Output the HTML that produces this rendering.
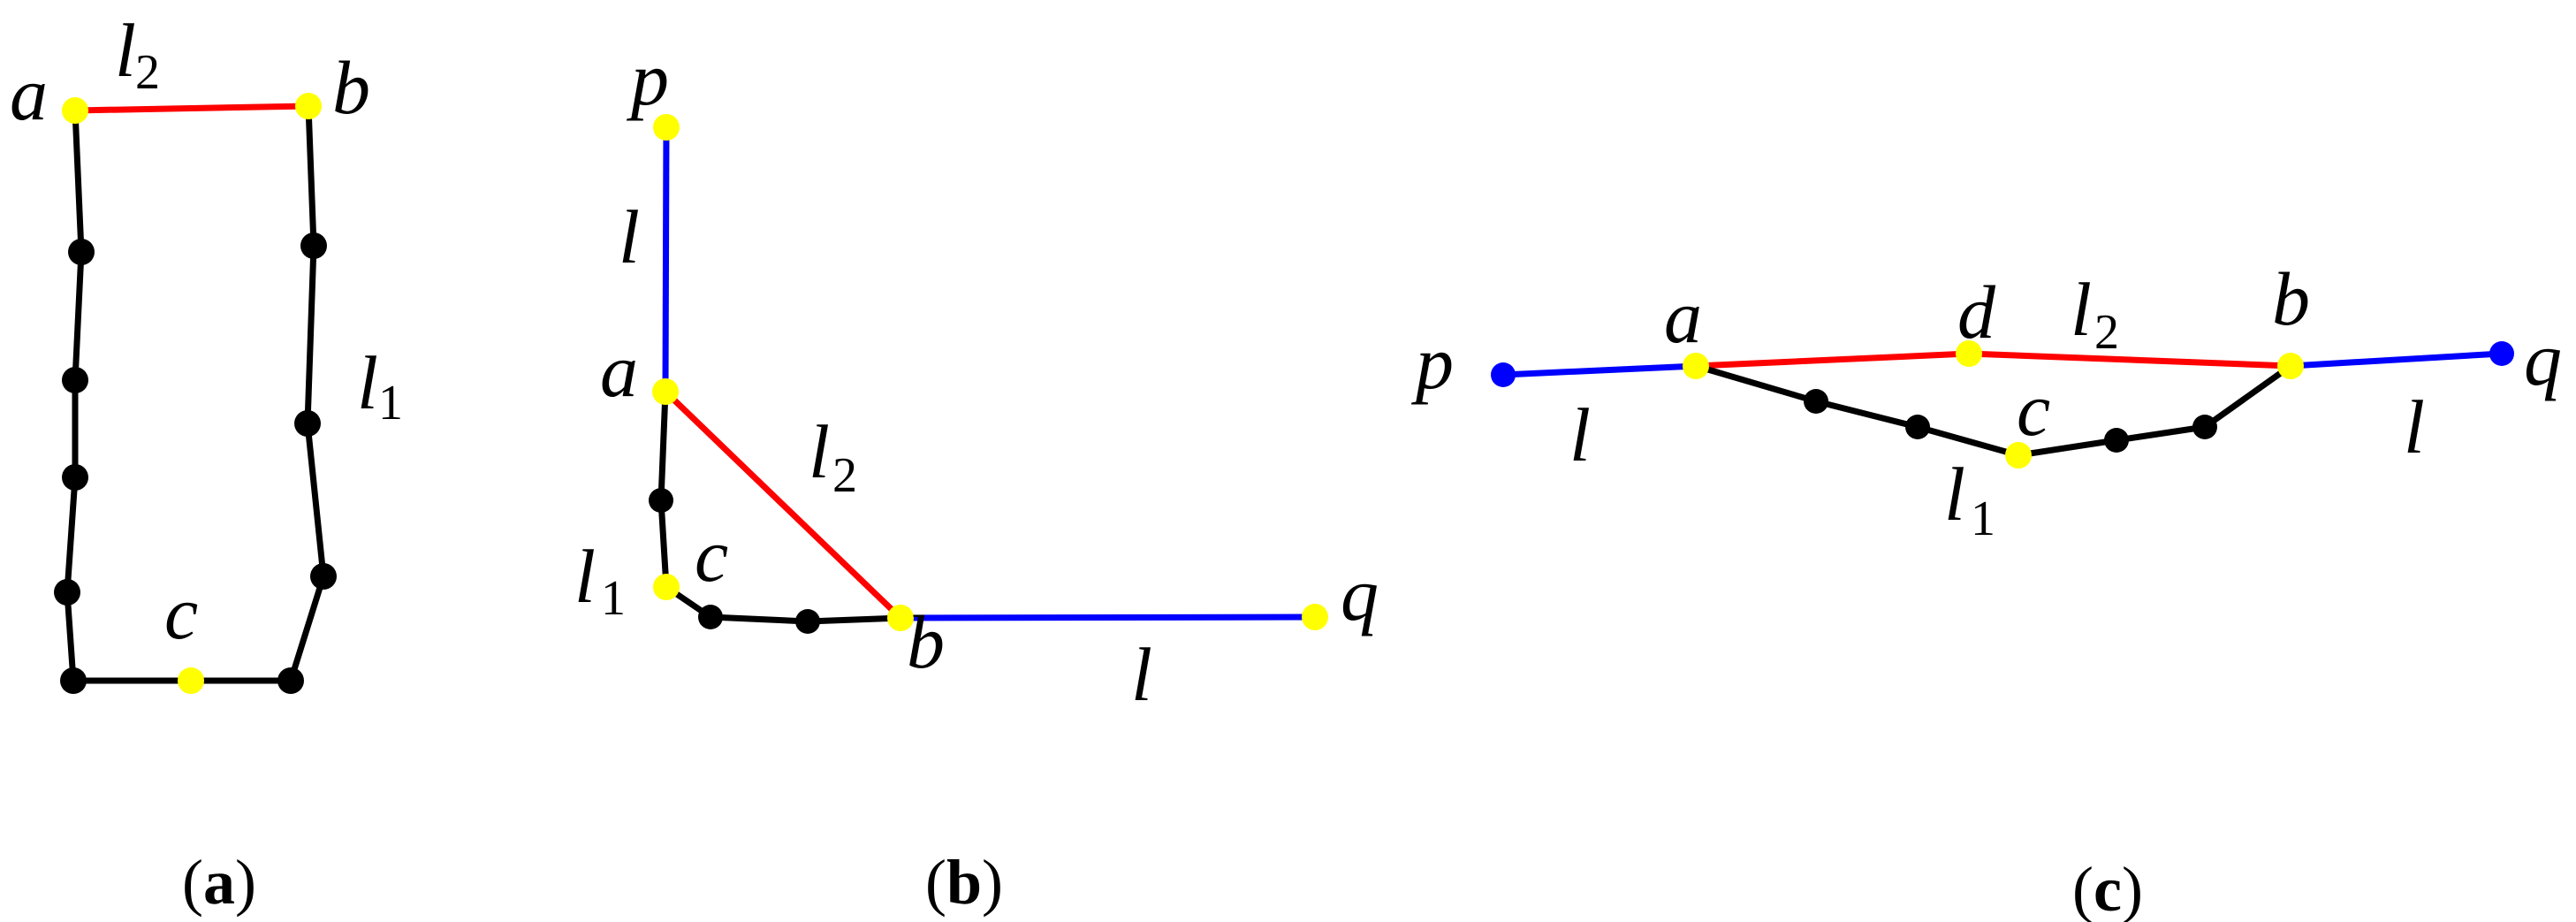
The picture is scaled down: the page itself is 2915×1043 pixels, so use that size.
<!DOCTYPE html>
<html><head><meta charset="utf-8"><style>
html,body{margin:0;padding:0;background:#fff;}
svg{display:block;}
text{font-family:"Liberation Serif","Times New Roman","DejaVu Serif",serif;font-style:italic;font-size:86px;fill:#000;}
.s{font-size:56px;font-style:normal;}
.cap{font-style:normal;font-size:72px;}
.cap tspan.b{font-weight:bold;}
</style></head><body>
<svg width="2915" height="1043" viewBox="0 0 2915 1043" xmlns="http://www.w3.org/2000/svg">
<g stroke-width="7" fill="none" stroke-linejoin="round">
<polyline stroke="#000" points="85,125 92,285 85,430 85,540 76,670 83,770 216,770 329,770 366,652 348,479 355,278 349,120"/>
<line stroke="#f00" x1="85" y1="125" x2="349" y2="120"/>
<line stroke="#00f" x1="754" y1="144" x2="753" y2="443"/>
<line stroke="#00f" x1="1019" y1="699" x2="1488" y2="698"/>
<line stroke="#f00" x1="753" y1="443" x2="1019" y2="699"/>
<polyline stroke="#000" points="753,443 748,566 754,664 804,698 914,703 1019,699"/>
<line stroke="#00f" x1="1701" y1="424" x2="1919" y2="414"/>
<line stroke="#00f" x1="2592" y1="414" x2="2831" y2="400"/>
<polyline stroke="#f00" points="1919,414 2228,400 2592,414"/>
<polyline stroke="#000" points="1919,414 2055,454 2170,483 2284,515 2395,498 2495,483 2592,414"/>
</g>
<g fill="#000">
<circle cx="92" cy="285" r="15"/><circle cx="85" cy="430" r="15"/><circle cx="85" cy="540" r="15"/><circle cx="76" cy="670" r="15"/><circle cx="83" cy="770" r="15"/><circle cx="329" cy="770" r="15"/><circle cx="366" cy="652" r="15"/><circle cx="348" cy="479" r="15"/><circle cx="355" cy="278" r="15"/>
<circle cx="748" cy="566" r="14"/><circle cx="804" cy="698" r="14"/><circle cx="914" cy="703" r="14"/>
<circle cx="2055" cy="454" r="14"/><circle cx="2170" cy="483" r="14"/><circle cx="2395" cy="498" r="14"/><circle cx="2495" cy="483" r="14"/>
</g>
<g fill="#00f"><circle cx="1701" cy="424" r="14"/><circle cx="2831" cy="400" r="14"/></g>
<g fill="#ff0">
<circle cx="85" cy="125" r="15"/><circle cx="349" cy="120" r="15"/><circle cx="216" cy="770" r="15"/>
<circle cx="754" cy="144" r="15"/><circle cx="753" cy="443" r="15"/><circle cx="754" cy="664" r="15"/><circle cx="1019" cy="699" r="15"/><circle cx="1488" cy="698" r="15"/>
<circle cx="1919" cy="414" r="15"/><circle cx="2228" cy="400" r="15"/><circle cx="2592" cy="414" r="15"/><circle cx="2284" cy="515" r="15"/>
</g>
<text x="11" y="135">a</text>
<text x="130" y="86">l</text><text class="s" x="153" y="100">2</text>
<text x="376" y="128">b</text>
<text x="404" y="462">l</text><text class="s" x="428" y="474">1</text>
<text x="186" y="722">c</text>
<text class="cap" x="206" y="1022">(<tspan class="b">a</tspan>)</text>
<text x="714" y="118">p</text>
<text x="700" y="297">l</text>
<text x="679" y="448">a</text>
<text x="915" y="540">l</text><text class="s" x="942" y="556">2</text>
<text x="650" y="681">l</text><text class="s" x="680" y="695">1</text>
<text x="786" y="657">c</text>
<text x="1026" y="755">b</text>
<text x="1517" y="701">q</text>
<text x="1280" y="792">l</text>
<text class="cap" x="1047" y="1022">(<tspan class="b">b</tspan>)</text>
<text x="1602" y="439">p</text>
<text x="1883" y="387">a</text>
<text x="2215" y="382">d</text>
<text x="2343" y="379">l</text><text class="s" x="2370" y="394">2</text>
<text x="2571" y="367">b</text>
<text x="2856" y="435">q</text>
<text x="1776" y="521">l</text>
<text x="2720" y="512">l</text>
<text x="2282" y="492">c</text>
<text x="2200" y="588">l</text><text class="s" x="2230" y="605">1</text>
<text class="cap" x="2345" y="1030">(<tspan class="b">c</tspan>)</text>
</svg>
</body></html>
